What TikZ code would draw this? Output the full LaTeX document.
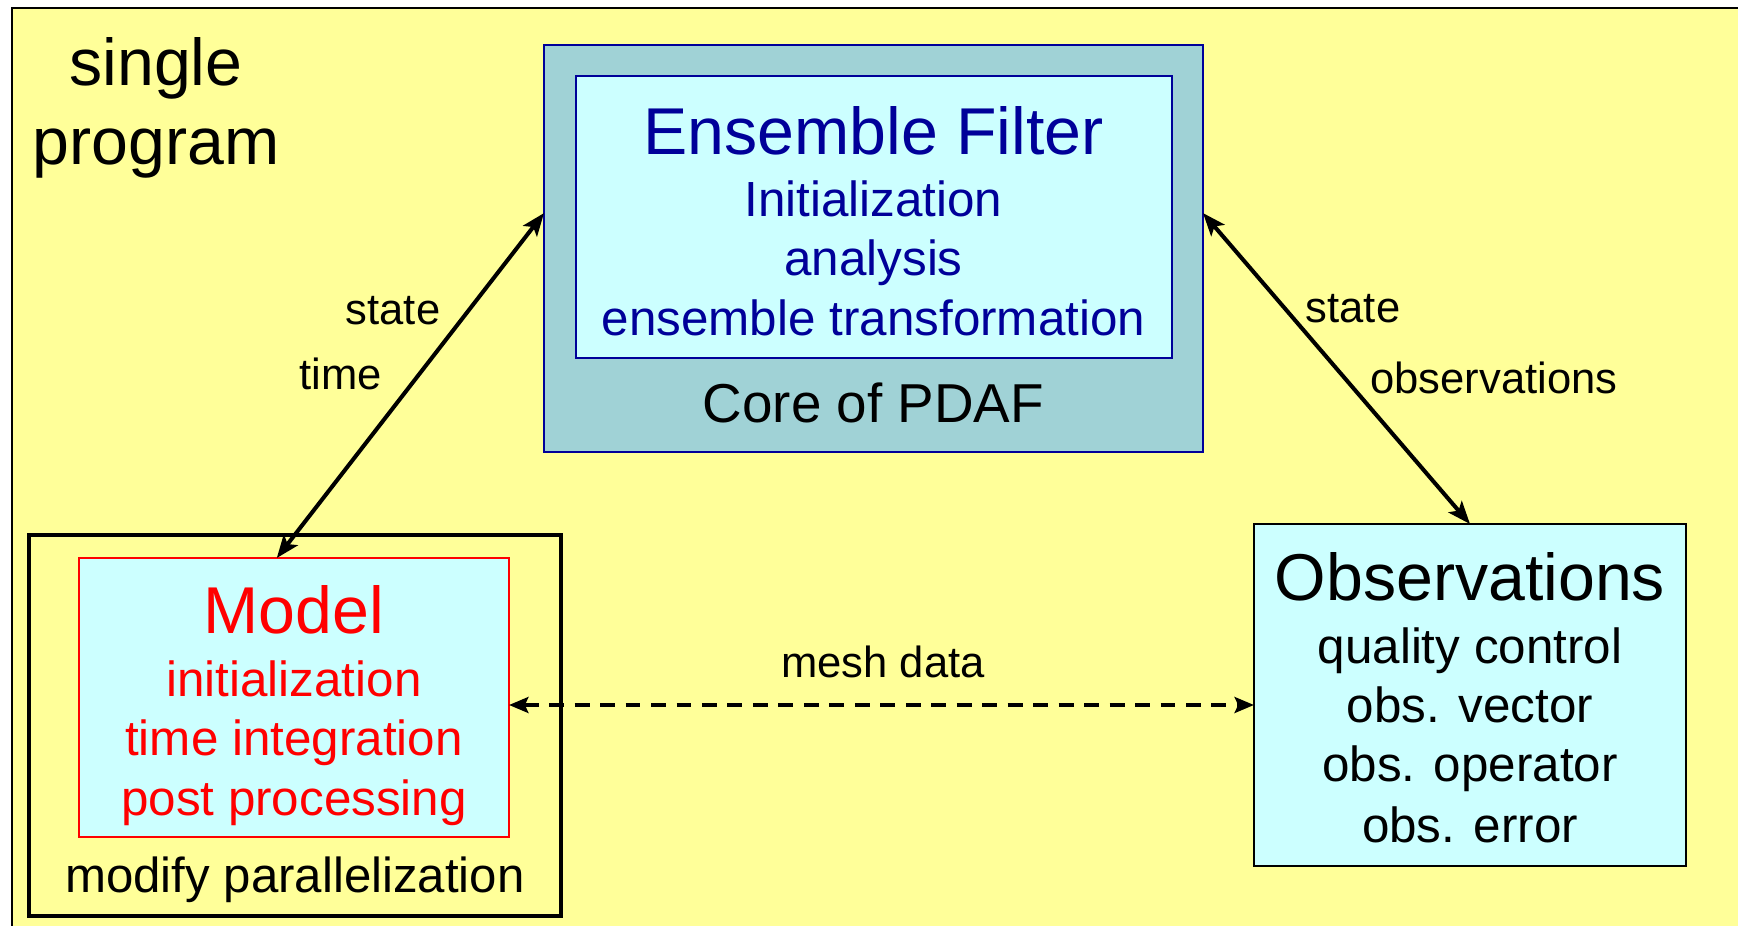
\documentclass[tikz,border=0pt]{standalone}
\usepackage{fontspec}
\setmainfont{Liberation Sans}
\usetikzlibrary{fit,arrows.meta,calc}
\definecolor{bgyellow}{HTML}{FFFF99}
\definecolor{coreteal}{HTML}{A0D2D6}
\definecolor{lightcyan}{HTML}{CCFFFF}
\definecolor{navyblue}{HTML}{000099}
\definecolor{modelred}{HTML}{FF0000}
\begin{document}
\begin{tikzpicture}[x=0.02cm,y=-0.02cm,
  box/.style={inner sep=0pt, outer sep=0pt},
  lbl/.style={anchor=base, inner sep=0pt, outer sep=0pt},
  big/.style={lbl, font=\fontsize{37.7pt}{44pt}\selectfont},
  mid/.style={lbl, font=\fontsize{28.1pt}{34pt}\selectfont},
  small/.style={lbl, font=\fontsize{24.8pt}{30pt}\selectfont},
  conn/.style={line width=2.3pt, {Stealth[length=13pt,width=10pt,inset=3pt]}-{Stealth[length=13pt,width=10pt,inset=3pt]}},
  dconn/.style={line width=2.3pt, dash pattern=on 8.5pt off 6pt, {Stealth[length=11pt,width=9pt,inset=2pt]}-{Stealth[length=11pt,width=9pt,inset=2pt]}}
]
\useasboundingbox (0,0) rectangle (1738,926);
\fill[white] (0,0) rectangle (1738,926);
\begin{scope}
\clip (0,0) rectangle (1738,926);
\node[fit={(12,8) (1770,960)}, box, fill=bgyellow, draw=black, line width=1.5pt] (frame) {};
\end{scope}

% Core of PDAF
\node[fit={(544,45) (1203,452)}, box, fill=coreteal, draw=navyblue, line width=1.4pt] (coreout) {};
\node[fit={(576,76) (1172,358)}, box, fill=lightcyan, draw=navyblue, line width=1.4pt] (corein) {};

% Model
\node[fit={(29,535) (561,916)}, box, draw=black, line width=2.1pt] (modelout) {};
\node[fit={(79,558) (509,837)}, box, fill=lightcyan, draw=modelred, line width=1pt] (modelin) {};

% Observations
\node[fit={(1254,524) (1686,866)}, box, fill=lightcyan, draw=black, line width=1.3pt] (obs) {};

% texts
\node[big] (single) at (156,86) {single};
\node[big] (program) at (156,164) {program};

\node[big, text=navyblue] (eftitle) at (873.5,154) {Ensemble Filter};
\node[mid, text=navyblue] (efinit) at (873.5,216) {Initialization};
\node[mid, text=navyblue] (efana) at (873.5,275.5) {analysis};
\node[mid, text=navyblue] (eftrans) at (873.5,335) {ensemble transformation};
\node[lbl, font=\fontsize{31.2pt}{37pt}\selectfont] (corelbl) at (873.5,422) {Core of PDAF};

\node[big, text=modelred] (mtitle) at (294,633) {Model};
\node[mid, text=modelred] (minit) at (294,696) {initialization};
\node[mid, text=modelred] (mtime) at (294,755.5) {time integration};
\node[mid, text=modelred] (mpost) at (294,815) {post processing};
\node[lbl, font=\fontsize{28pt}{33pt}\selectfont] (mpar) at (295,892) {modify parallelization};

\node[big] (otitle) at (1470,600) {Observations};
\node[mid] (oqc) at (1470,663) {quality control};
\node[mid] (ovec) at (1470,722) {obs. vector};
\node[mid] (oop) at (1470,781) {obs. operator};
\node[mid] (oerr) at (1470,842) {obs. error};

\node[small] (lstate) at (393,324) {state};
\node[small] (ltime) at (341,389) {time};
\node[small] (rstate) at (1353,322) {state};
\node[small] (robs) at (1494,393) {observations};
\node[small] (mesh) at (883,677) {mesh data};

% connectors
\draw[conn] ($(modelin.north west)!0.46!(modelin.north east)$) -- ($(coreout.north west)!0.413!(coreout.south west)$);
\draw[conn] ($(coreout.north east)!0.413!(coreout.south east)$) -- (obs.north);
\coordinate (meshy) at (0,705);
\draw[dconn] (modelin.east |- meshy) -- (obs.west |- meshy);
\end{tikzpicture}
\end{document}
